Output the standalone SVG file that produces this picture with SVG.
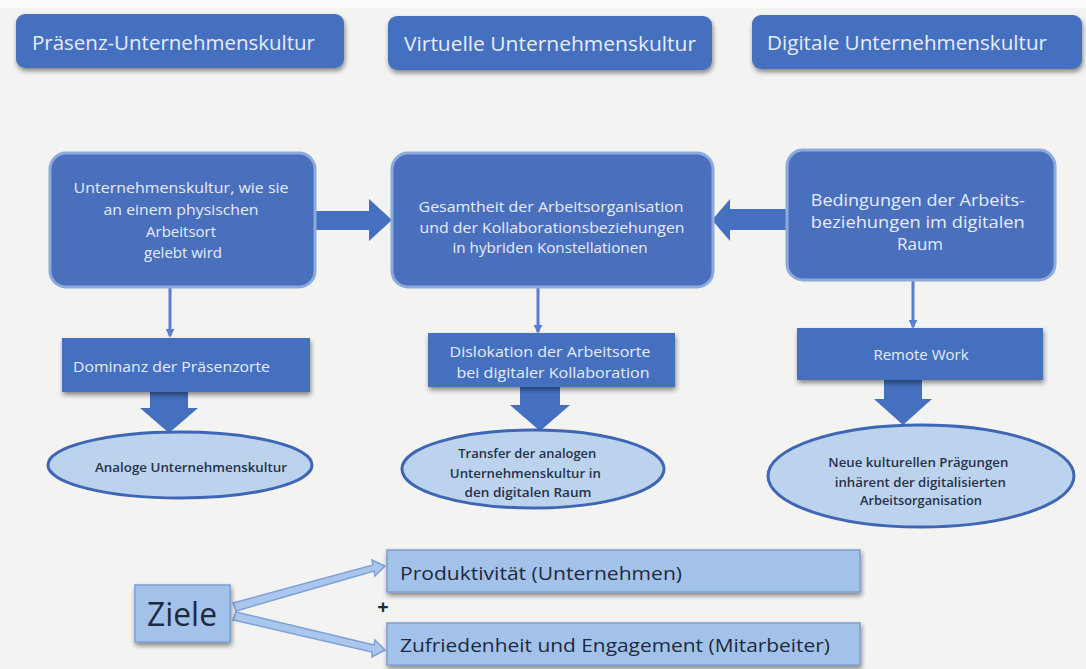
<svg xmlns="http://www.w3.org/2000/svg" width="1086" height="669" viewBox="0 0 1086 669">
  <defs>
    <filter id="shadow" x="-10%" y="-20%" width="120%" height="150%">
      <feGaussianBlur in="SourceAlpha" stdDeviation="2.5"/>
      <feOffset dx="1" dy="3" result="b"/>
      <feComponentTransfer><feFuncA type="linear" slope="0.45"/></feComponentTransfer>
      <feMerge><feMergeNode/><feMergeNode in="SourceGraphic"/></feMerge>
    </filter>
    <marker id="tip" viewBox="0 0 10 10" refX="8" refY="5" markerWidth="3" markerHeight="3" orient="auto">
      <path d="M0,0 L10,5 L0,10 z" fill="#5b7fcc"/>
    </marker>
  </defs>
  <style>
    .head { fill: #4570c0; filter: url(#shadow); }
    .mid { fill: #4a70bd; stroke: #8caadc; stroke-width: 3; }
    .step { fill: #4570c0; filter: url(#shadow); }
    .oval { fill: #bcd3ee; stroke: #3f66b4; stroke-width: 3; }
    .goal { fill: #a3c2ea; stroke: #7b9fd3; stroke-width: 1.5; filter: url(#shadow); }
    .wt { font-family: "Open Sans", "Liberation Sans", sans-serif; fill: #e6ecf8; }
    .dk { font-family: "Open Sans", "Liberation Sans", sans-serif; fill: #1e2a40; }
    .ov { font-weight: 600; fill: #26324a; }
    .thin { stroke: #5b7fcc; stroke-width: 3; fill: none; marker-end: url(#tip); }
    .big { fill: #4570c0; }
    .lt { fill: #a9c6ec; stroke: #7ea1d6; stroke-width: 1.5; }
  </style>

  <rect width="1086" height="669" fill="#f3f3f1"/>
  <rect width="1086" height="8" fill="#fbfbfa"/>

  <!-- column headings -->
  <g id="head-praesenz">
    <rect class="head" x="16" y="14" width="328" height="54" rx="9"/>
    <text class="wt" x="32" y="50" font-size="20" textLength="283" lengthAdjust="spacingAndGlyphs">Präsenz-Unternehmenskultur</text>
  </g>
  <g id="head-virtuell">
    <rect class="head" x="388" y="16" width="324" height="54" rx="9"/>
    <text class="wt" x="404" y="51" font-size="20" textLength="292" lengthAdjust="spacingAndGlyphs">Virtuelle Unternehmenskultur</text>
  </g>
  <g id="head-digital">
    <rect class="head" x="752" y="15" width="330" height="54" rx="9"/>
    <text class="wt" x="767" y="50" font-size="20" textLength="280" lengthAdjust="spacingAndGlyphs">Digitale Unternehmenskultur</text>
  </g>

  <!-- connectors -->
  <g id="connectors">
    <!-- horizontal block arrows into the centre box -->
    <polygon class="big" points="315,211 369,211 369,199 392,220 369,241 369,230 315,230"/>
    <polygon class="big" points="787,209 730,209 730,199 712,220 730,241 730,230 787,230"/>
    <!-- thin drops to the step boxes -->
    <line class="thin" x1="170" y1="288" x2="170" y2="336"/>
    <line class="thin" x1="538" y1="288" x2="538" y2="332"/>
    <line class="thin" x1="913" y1="281" x2="913" y2="327"/>
    <!-- block arrows down to the ovals -->
    <polygon class="big" points="150,392 188,392 188,408 198,408 169,433 140,408 150,408"/>
    <polygon class="big" points="520,387 560,387 560,405 570,405 540,431 510,405 520,405"/>
    <polygon class="big" points="884,380 922,380 922,399 932,399 903,425 874,399 884,399"/>
    <!-- goal arrows -->
    <polygon class="lt" points="233,603 373,565 372,560 385,566 375,576 374,571 236,611"/>
    <polygon class="lt" points="236,612 374,645 375,640 385,650 372,657 372,652 233,620"/>
  </g>

  <!-- main boxes -->
  <g id="box-praesenz">
    <rect class="mid" x="50" y="153" width="265" height="134" rx="16"/>
    <text class="wt" font-size="15" text-anchor="middle">
      <tspan x="183" y="193" textLength="215" lengthAdjust="spacingAndGlyphs">Unternehmenskultur,  wie sie</tspan>
      <tspan x="183" y="215" textLength="155" lengthAdjust="spacingAndGlyphs">an einem physischen</tspan>
      <tspan x="183" y="237">Arbeitsort</tspan>
      <tspan x="183" y="258">gelebt wird</tspan>
    </text>
  </g>
  <g id="box-virtuell">
    <rect class="mid" x="392" y="153" width="321" height="134" rx="16"/>
    <text class="wt" font-size="15" text-anchor="middle">
      <tspan x="553" y="212" textLength="265" lengthAdjust="spacingAndGlyphs">Gesamtheit  der Arbeitsorganisation</tspan>
      <tspan x="554" y="233" textLength="265" lengthAdjust="spacingAndGlyphs">und der Kollaborationsbeziehungen</tspan>
      <tspan x="550" y="253" textLength="195" lengthAdjust="spacingAndGlyphs">in hybriden  Konstellationen</tspan>
    </text>
  </g>
  <g id="box-digital">
    <rect class="mid" x="787" y="150" width="268" height="130" rx="16"/>
    <text class="wt" font-size="17" text-anchor="middle">
      <tspan x="920" y="206" textLength="214" lengthAdjust="spacingAndGlyphs">Bedingungen der Arbeits-</tspan>
      <tspan x="920" y="228" textLength="214" lengthAdjust="spacingAndGlyphs">beziehungen im digitalen</tspan>
      <tspan x="920" y="250">Raum</tspan>
    </text>
  </g>

  <!-- step boxes -->
  <g id="step-praesenz">
    <rect class="step" x="62" y="338" width="248" height="54"/>
    <text class="wt" x="73" y="372" font-size="15" textLength="197" lengthAdjust="spacingAndGlyphs">Dominanz  der Präsenzorte</text>
  </g>
  <g id="step-virtuell">
    <rect class="step" x="428" y="333" width="247" height="54"/>
    <text class="wt" font-size="15" text-anchor="middle">
      <tspan x="552" y="357" textLength="201" lengthAdjust="spacingAndGlyphs">Dislokation  der Arbeitsorte</tspan>
      <tspan x="553" y="378" textLength="193" lengthAdjust="spacingAndGlyphs">bei digitaler  Kollaboration</tspan>
    </text>
  </g>
  <g id="step-digital">
    <rect class="step" x="797" y="328" width="246" height="52"/>
    <text class="wt" x="921" y="360" font-size="15" text-anchor="middle">Remote Work</text>
  </g>

  <!-- outcome ovals -->
  <g id="oval-praesenz">
    <ellipse class="oval" cx="180" cy="465" rx="132" ry="33"/>
    <text class="dk ov" x="191" y="472" font-size="13" text-anchor="middle" textLength="192" lengthAdjust="spacingAndGlyphs">Analoge Unternehmenskultur</text>
  </g>
  <g id="oval-virtuell">
    <ellipse class="oval" cx="533" cy="469" rx="131" ry="39"/>
    <text class="dk ov" font-size="13" text-anchor="middle">
      <tspan x="529" y="458" textLength="138" lengthAdjust="spacingAndGlyphs">Transfer der analogen</tspan>
      <tspan x="527" y="478" textLength="151" lengthAdjust="spacingAndGlyphs">Unternehmenskultur in</tspan>
      <tspan x="528" y="497" textLength="127" lengthAdjust="spacingAndGlyphs">den digitalen Raum</tspan>
    </text>
  </g>
  <g id="oval-digital">
    <ellipse class="oval" cx="921" cy="476" rx="153" ry="51"/>
    <text class="dk ov" font-size="13" text-anchor="middle">
      <tspan x="920" y="467" textLength="180" lengthAdjust="spacingAndGlyphs">Neue kulturellen Prägungen</tspan>
      <tspan x="922" y="487" textLength="171" lengthAdjust="spacingAndGlyphs">inhärent der digitalisierten</tspan>
      <tspan x="921" y="505" textLength="122" lengthAdjust="spacingAndGlyphs">Arbeitsorganisation</tspan>
    </text>
  </g>

  <!-- goals -->
  <g id="goal-ziele">
    <rect class="goal" x="135" y="585" width="95" height="57"/>
    <text class="dk" x="147" y="626" font-size="33" textLength="70" lengthAdjust="spacingAndGlyphs">Ziele</text>
  </g>
  <g id="goal-produktivitaet">
    <rect class="goal" x="387" y="550" width="473" height="42"/>
    <text class="dk" x="400" y="580" font-size="18" textLength="282" lengthAdjust="spacingAndGlyphs">Produktivität (Unternehmen)</text>
  </g>
  <g id="goal-zufriedenheit">
    <rect class="goal" x="387" y="623" width="473" height="42"/>
    <text class="dk" x="400" y="652" font-size="18" textLength="430" lengthAdjust="spacingAndGlyphs">Zufriedenheit und Engagement (Mitarbeiter)</text>
  </g>
  <g id="plus">
    <text class="dk" x="383" y="614" font-size="20" font-weight="bold" text-anchor="middle">+</text>
  </g>
</svg>
